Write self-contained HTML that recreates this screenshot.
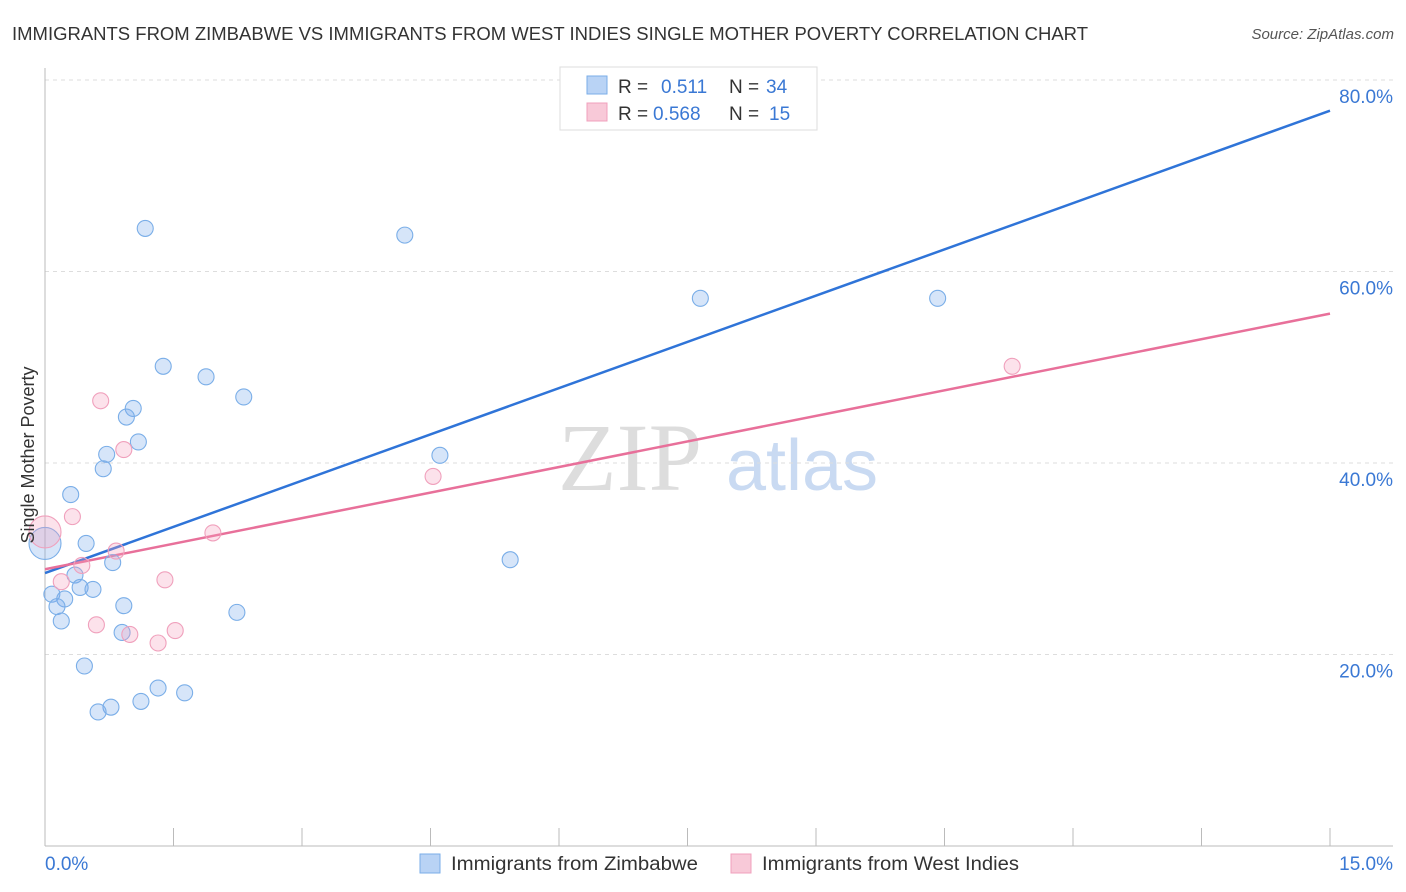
<!DOCTYPE html>
<html><head><meta charset="utf-8">
<style>
body{margin:0;background:#fff;font-family:"Liberation Sans",sans-serif;}
svg{display:block}
</style></head>
<body>
<svg id="chart" width="1406" height="892">
<text x="12" y="40" font-size="18" fill="#333" textLength="1076" lengthAdjust="spacingAndGlyphs">IMMIGRANTS FROM ZIMBABWE VS IMMIGRANTS FROM WEST INDIES SINGLE MOTHER POVERTY CORRELATION CHART</text>
<text x="1394" y="39" font-size="15" fill="#555" font-style="italic" text-anchor="end">Source: ZipAtlas.com</text>
<g>
<text x="630" y="490" font-size="96" fill="#ddd" font-family="Liberation Serif" text-anchor="middle">ZIP</text>
<text x="802" y="490" font-size="72" fill="#c9daf2" text-anchor="middle">atlas</text>
</g>
<g id="grid"></g>
<g id="axes"></g>
<g id="lines"></g>
<g id="points"></g>
<text transform="translate(34,455) rotate(-90)" font-size="18" fill="#333" text-anchor="middle">Single Mother Poverty</text>
<g>
<rect x="560" y="67" width="257" height="63" fill="#fff" stroke="#ddd"/>
<rect x="587" y="76" width="20" height="18" fill="#b9d3f5" stroke="#7aaee8"/>
<rect x="587" y="103" width="20" height="18" fill="#f8c9d8" stroke="#f0a0bc"/>
<text x="618" y="93" font-size="19" fill="#333">R = </text><text x="661" y="93" font-size="19" fill="#3a78d4">0.511</text>
<text x="729" y="93" font-size="19" fill="#333">N = </text><text x="766" y="93" font-size="19" fill="#3a78d4">34</text>
<text x="618" y="120" font-size="19" fill="#333">R = </text><text x="653" y="120" font-size="19" fill="#3a78d4">0.568</text>
<text x="729" y="120" font-size="19" fill="#333">N = </text><text x="769" y="120" font-size="19" fill="#3a78d4">15</text>
</g>
<g>
<rect x="420" y="854" width="20" height="19" fill="#b9d3f5" stroke="#7aaee8"/>
<text x="451" y="870" font-size="19" fill="#333" textLength="247" lengthAdjust="spacingAndGlyphs">Immigrants from Zimbabwe</text>
<rect x="731" y="854" width="20" height="19" fill="#f8c9d8" stroke="#f0a0bc"/>
<text x="762" y="870" font-size="19" fill="#333" textLength="257" lengthAdjust="spacingAndGlyphs">Immigrants from West Indies</text>
</g>
</svg>
<script>
const blueX=[1.17,4.20,7.65,10.42,1.38,1.88,2.32,1.03,0.95,1.09,0.72,0.68,4.61,0.30,0.48,0.79,5.43,0.0,0.08,0.35,0.41,0.56,0.23,0.14,0.19,0.92,0.90,2.24,0.46,1.32,1.63,1.12,0.77,0.62];
const blueY=[64.5,63.8,57.2,57.2,50.1,49.0,46.9,45.7,44.8,42.2,40.9,39.4,40.8,36.7,31.6,29.6,29.9,31.6,26.3,28.3,27.0,26.8,25.8,25.0,23.5,25.1,22.3,24.4,18.8,16.5,16.0,15.1,14.5,14.0];
const pinkX=[11.29,0.65,0.92,4.53,0.32,0.0,1.96,0.83,0.43,0.19,1.40,0.60,0.99,1.52,1.32];
const pinkY=[50.1,46.5,41.4,38.6,34.4,32.8,32.7,30.8,29.3,27.6,27.8,23.1,22.1,22.5,21.2];
const blueTrend=[28.5,76.8];
const pinkTrend=[28.9,55.6];
const yTicks=[20,40,60,80];
const xTicks=[0,1.5,3,4.5,6,7.5,9,10.5,12,13.5,15];
const NS='http://www.w3.org/2000/svg';
const X0=45,X1=1330,Y0=846,PY=9.575;
const sx=v=>X0+(v/15)*(X1-X0);
const sy=v=>Y0-v*PY;
function mk(p,t,a){const e=document.createElementNS(NS,t);for(const k in a)e.setAttribute(k,a[k]);document.getElementById(p).appendChild(e);return e;}
yTicks.forEach(t=>{
 const g=mk('grid','line',{x1:X0,x2:1393,y1:sy(t),y2:sy(t),stroke:'#ddd','stroke-dasharray':'4,4'});
 
 
 const l=mk('grid','text',{x:1393,y:sy(t)+23,'font-size':19,fill:'#3a78d4','text-anchor':'end'});
 l.textContent=t.toFixed(1)+'%';
 
 
});
const ax=mk('axes','line',{x1:X0,x2:X0,y1:68,y2:Y0,stroke:'#bbb'});


const bx=mk('axes','line',{x1:X0,x2:1393,y1:Y0,y2:Y0,stroke:'#bbb'});


xTicks.forEach(t=>{const k=mk('axes','line',{x1:sx(t),x2:sx(t),y1:Y0,y2:828,stroke:'#bbb'});
 
 });
[[0,'start',45],[15,'end',1393]].forEach(([v,a,x])=>{const t=mk('axes','text',{x:x,y:870,'font-size':19,fill:'#3a78d4','text-anchor':a});t.textContent=v.toFixed(1)+'%';
 
 });
function pts(xs,ys,fill,stroke,name,bigIdx){xs.forEach((x,i)=>{
 const c=mk('points','circle',{cx:sx(x),cy:sy(ys[i]),r:i===bigIdx?16:8,fill:fill,stroke:stroke,'stroke-width':1.1});
 
 });}
pts(blueX,blueY,'rgba(120,170,235,0.3)','#7aaee8','point-zimbabwe',17);
pts(pinkX,pinkY,'rgba(245,160,190,0.3)','#f0a0bc','point-west-indies',5);
const lb=mk('lines','line',{x1:sx(0),y1:sy(blueTrend[0]),x2:sx(15),y2:sy(blueTrend[1]),stroke:'#2f74d8','stroke-width':2.5});


const lp=mk('lines','line',{x1:sx(0),y1:sy(pinkTrend[0]),x2:sx(15),y2:sy(pinkTrend[1]),stroke:'#e8709a','stroke-width':2.5});


</script>
</body></html>
